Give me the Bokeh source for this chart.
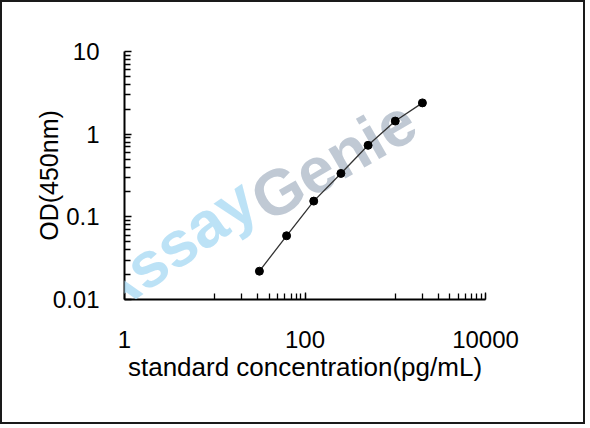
import math
from bokeh.plotting import figure
from bokeh.models import Range1d, FixedTicker, Label, ColumnDataSource
from bokeh.embed import file_html
from bokeh.resources import INLINE

# ---- data ----
conc = [31.25, 62.5, 125, 250, 500, 1000, 2000]          # pg/mL
od = [0.022, 0.059, 0.155, 0.335, 0.733, 1.44, 2.39]     # OD 450nm

x_major = [1, 100, 10000]
x_major_labels = ["1", "100", "10000"]
x_minor = [10, 20, 30, 40, 50, 60, 70, 80, 90, 100,
           1000, 2000, 3000, 4000, 5000, 6000, 7000, 8000, 9000, 10000]
y_major = [0.01, 0.1, 1, 10]
y_major_labels = ["0.01", "0.1", "1", "10"]
y_minor = [d * m for d in (0.01, 0.1, 1) for m in range(2, 10)]

x_title = "standard concentration(pg/mL)"
y_title = "OD(450nm)"
watermark = ["Assay", "Genie"]

FONT = "Liberation Sans"

W, H = 585, 424
BL, BT = 122, 49
FW, FH = 361, 248

p = figure(width=W, height=H, output_backend="svg", toolbar_location=None,
           x_axis_type="log", y_axis_type="log",
           x_range=Range1d(1, 10000), y_range=Range1d(0.01, 10),
           min_border_left=BL, min_border_top=BT,
           min_border_right=W - BL - FW, min_border_bottom=H - BT - FH)
p.styles = {"border": "2px solid #1a1a1a"}
p.outline_line_color = None
p.grid.visible = False
p.background_fill_color = "white"
p.border_fill_color = "white"

for ax in (p.xaxis[0], p.yaxis[0]):
    ax.axis_line_color = "black"
    ax.axis_line_width = 2
    ax.major_tick_line_color = "black"
    ax.minor_tick_line_color = "black"
    ax.major_tick_line_width = 1.3
    ax.minor_tick_line_width = 1.3
    ax.major_tick_out = 0
    ax.minor_tick_out = 0
    ax.major_tick_in = 7
    ax.minor_tick_in = 6
    ax.major_label_text_font = FONT
    ax.major_label_text_font_size = "24px"
    ax.major_label_text_color = "black"
    ax.axis_label_text_font = FONT
    ax.axis_label_text_font_style = "normal"
    ax.axis_label_text_color = "black"

p.xaxis[0].axis_label_text_font_size = "26px"
p.yaxis[0].axis_label_text_font_size = "25px"
p.xaxis[0].ticker = FixedTicker(ticks=x_major, minor_ticks=x_minor)
p.yaxis[0].ticker = FixedTicker(ticks=y_major, minor_ticks=y_minor)
p.xaxis[0].major_label_overrides = dict(zip(x_major, x_major_labels))
p.yaxis[0].major_label_overrides = dict(zip(y_major, y_major_labels))
p.xaxis[0].axis_label = x_title
p.yaxis[0].axis_label = y_title
p.xaxis[0].major_label_standoff = 31
p.xaxis[0].axis_label_standoff = 1
p.yaxis[0].major_label_standoff = 25
p.yaxis[0].axis_label_standoff = -13

# ---- watermark (canvas pixels) ----
fs = 64
wm_starts = [(90, 297), (252, 200)]
wm_angles = [35, 30]
wm_colors = ["#b0ddf4", "#b5c0cc"]
for word, (sx, sy), a, col in zip(watermark, wm_starts, wm_angles, wm_colors):
    p.add_layout(Label(x=sx, y=sy, x_units="canvas", y_units="canvas",
                       text=word, angle=math.radians(a), text_font=FONT,
                       text_font_size=f"{fs}px", text_font_style="bold",
                       text_color=col, text_alpha=0.85, text_align="left",
                       text_baseline="alphabetic", level="guide"))

src = ColumnDataSource(dict(x=conc, y=od))
p.line("x", "y", source=src, line_color="#333333", line_width=1.3, level="overlay")
p.scatter("x", "y", source=src, marker="circle", size=8,
          fill_color="black", line_color="black", level="overlay")

open("out.html", "w").write(file_html(p, INLINE))
